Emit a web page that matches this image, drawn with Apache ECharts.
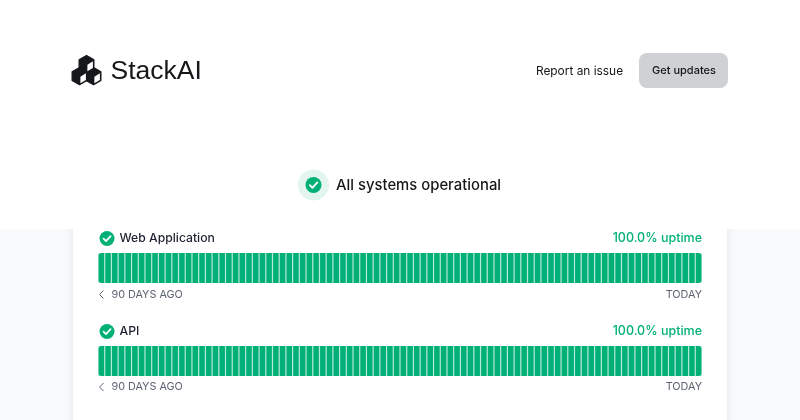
<!DOCTYPE html>
<html>
<head>
<meta charset="utf-8">
<title>StackAI status</title>
<script src="https://cdn.jsdelivr.net/npm/echarts@6/dist/echarts.min.js"></script>
<style>
html,body{margin:0;padding:0;background:#fff;}
#main{width:800px;height:420px;}
</style>
</head>
<body>
<div id="main"></div>
<script>
// 90 days of uptime, oldest first
var webUptime = [
	100,100,100,100,100,100,100,100,100,100,100,100,100,100,100,100,100,100,
	100,100,100,100,100,100,100,100,100,100,100,100,100,100,100,100,100,100,
	100,100,100,100,100,100,100,100,100,100,100,100,100,100,100,100,100,100,
	100,100,100,100,100,100,100,100,100,100,100,100,100,100,100,100,100,100,
	100,100,100,100,100,100,100,100,100,100,100,100,100,100,100,100,100,100
];
var apiUptime = [
	100,100,100,100,100,100,100,100,100,100,100,100,100,100,100,100,100,100,
	100,100,100,100,100,100,100,100,100,100,100,100,100,100,100,100,100,100,
	100,100,100,100,100,100,100,100,100,100,100,100,100,100,100,100,100,100,
	100,100,100,100,100,100,100,100,100,100,100,100,100,100,100,100,100,100,
	100,100,100,100,100,100,100,100,100,100,100,100,100,100,100,100,100,100
];
var dayIndex = webUptime.map(function (v, i) { return String(i + 1); });
var serviceNames = ['Web Application', 'API'];
var uptimeLabels = ['100.0% uptime', '100.0% uptime'];
var rangeLabels = ['90 DAYS AGO', 'TODAY'];

var GREEN = '#00b077';
var GAP_GREEN = '#b5e8d5';
var FONT = 'Inter, "Noto Sans", sans-serif';

// 首尾两根柱子带圆角
function roundEnds(values) {
	return values.map(function (v, i) {
		var item = { value: v };
		if (i === 0) item.itemStyle = { borderRadius: [3, 0, 0, 3] };
		if (i === values.length - 1) item.itemStyle = { borderRadius: [0, 3, 3, 0] };
		return item;
	});
}

function label(x, y, text, size, color, weight, align, family) {
	return {
		type: 'text', x: x, y: y, z: 10,
		style: {
			text: text, fill: color, fontFamily: family || FONT, fontSize: size,
			fontWeight: weight || 400, textAlign: align || 'left', textVerticalAlign: 'middle'
		}
	};
}

function checkIcon(cx, cy, r) {
	var s = r / 7.5;
	return [
		{ type: 'circle', z: 10, shape: { cx: cx, cy: cy, r: r }, style: { fill: GREEN } },
		{
			type: 'polyline', z: 11,
			shape: { points: [[cx - 3.4 * s, cy + 0.2 * s], [cx - 1 * s, cy + 2.6 * s], [cx + 3.6 * s, cy - 2.4 * s]] },
			style: { stroke: '#fff', lineWidth: 1.7 * s, fill: null, lineCap: 'round', lineJoin: 'round' }
		}
	];
}

// logo: three cubes
function cube(cx, cy) {
	var w = 7.4, h = 4.3, d = 8.6;
	return [
		{
			type: 'polygon', z: 10,
			shape: { points: [[cx, cy], [cx + w, cy + h], [cx + w, cy + h + d], [cx, cy + 2 * h + d], [cx - w, cy + h + d], [cx - w, cy + h]] },
			style: { fill: '#15171a', stroke: '#15171a', lineWidth: 1.2, lineJoin: 'round' }
		},
		{
			type: 'polygon', z: 11,
			shape: { points: [[cx + 0.9, cy + 2 * h + 0.6], [cx + w - 1, cy + h + 1.4], [cx + w - 1, cy + h + d - 0.4], [cx + 0.9, cy + 2 * h + d - 1.4]] },
			style: { fill: '#fff' }
		}
	];
}

var chart = echarts.init(document.getElementById('main'));

var graphics = [
	{ type: 'rect', z: 0, shape: { x: 0, y: 229, width: 800, height: 191 }, style: { fill: '#f9fafc' } },
	{
		type: 'rect', z: 1, shape: { x: 73, y: 200, width: 654, height: 260, r: 6 },
		style: { fill: '#fff', shadowBlur: 8, shadowColor: 'rgba(20,30,50,0.10)', shadowOffsetY: 1 }
	},
	{ type: 'rect', z: 2, shape: { x: 0, y: 0, width: 800, height: 229 }, style: { fill: '#fff' } },

	label(110.5, 72, 'StackAI', 26.5, '#15171a', 400, 'left', '"Liberation Sans", sans-serif'),
	label(579.5, 71, 'Report an issue', 11.9, '#15171a', 400, 'center'),
	{ type: 'rect', z: 5, shape: { x: 639, y: 53, width: 89, height: 35, r: 8 }, style: { fill: '#cfd1d5' } },
	label(684, 70.5, 'Get updates', 11, '#15171a', 500, 'center'),

	{ type: 'circle', z: 5, shape: { cx: 313.5, cy: 185, r: 15.5 }, style: { fill: '#e2f6ef' } },
	label(336, 185.5, 'All systems operational', 14.85, '#15171a', 500),

	label(119.5, 238.5, serviceNames[0], 12.2, '#1d2230', 500),
	label(702, 238.5, uptimeLabels[0], 12.5, GREEN, 500, 'right'),
	label(111.5, 294.5, rangeLabels[0], 10.8, '#5d6371', 400),
	label(702, 294.5, rangeLabels[1], 10.8, '#5d6371', 400, 'right'),

	label(119.5, 331.5, serviceNames[1], 12.2, '#1d2230', 500),
	label(702, 331.5, uptimeLabels[1], 12.5, GREEN, 500, 'right'),
	label(111.5, 387, rangeLabels[0], 10.8, '#5d6371', 400),
	label(702, 387, rangeLabels[1], 10.8, '#5d6371', 400, 'right')
];

[294.5, 387].forEach(function (y) {
	graphics.push({
		type: 'polyline', z: 10,
		shape: { points: [[103.5, y - 4], [99.5, y], [103.5, y + 4]] },
		style: { stroke: '#5d6371', lineWidth: 1, fill: null }
	});
});

graphics = graphics
	.concat(checkIcon(313.5, 185, 8))
	.concat(checkIcon(107, 238.5, 7.5))
	.concat(checkIcon(107, 331.5, 7.5))
	.concat(cube(86.5, 55.5))
	.concat(cube(79.5, 67.5))
	.concat(cube(93.5, 67.5));

var option = {
	animation: false,
	backgroundColor: '#fff',
	tooltip: { show: false },
	graphic: { elements: graphics },
	grid: [
		{ left: 98, top: 253, width: 604, height: 30, show: true, backgroundColor: GAP_GREEN, borderWidth: 0, z: 3 },
		{ left: 98, top: 346, width: 604, height: 30, show: true, backgroundColor: GAP_GREEN, borderWidth: 0, z: 3 }
	],
	xAxis: [
		{ type: 'category', gridIndex: 0, data: dayIndex, show: false },
		{ type: 'category', gridIndex: 1, data: dayIndex, show: false }
	],
	yAxis: [
		{ type: 'value', gridIndex: 0, min: 0, max: 100, show: false },
		{ type: 'value', gridIndex: 1, min: 0, max: 100, show: false }
	],
	series: [
		{
			name: serviceNames[0], type: 'bar', xAxisIndex: 0, yAxisIndex: 0, z: 20,
			barCategoryGap: '18%', itemStyle: { color: GREEN }, data: roundEnds(webUptime)
		},
		{
			name: serviceNames[1], type: 'bar', xAxisIndex: 1, yAxisIndex: 1, z: 20,
			barCategoryGap: '18%', itemStyle: { color: GREEN }, data: roundEnds(apiUptime)
		}
	]
};
chart.setOption(option);
</script>
</body>
</html>
